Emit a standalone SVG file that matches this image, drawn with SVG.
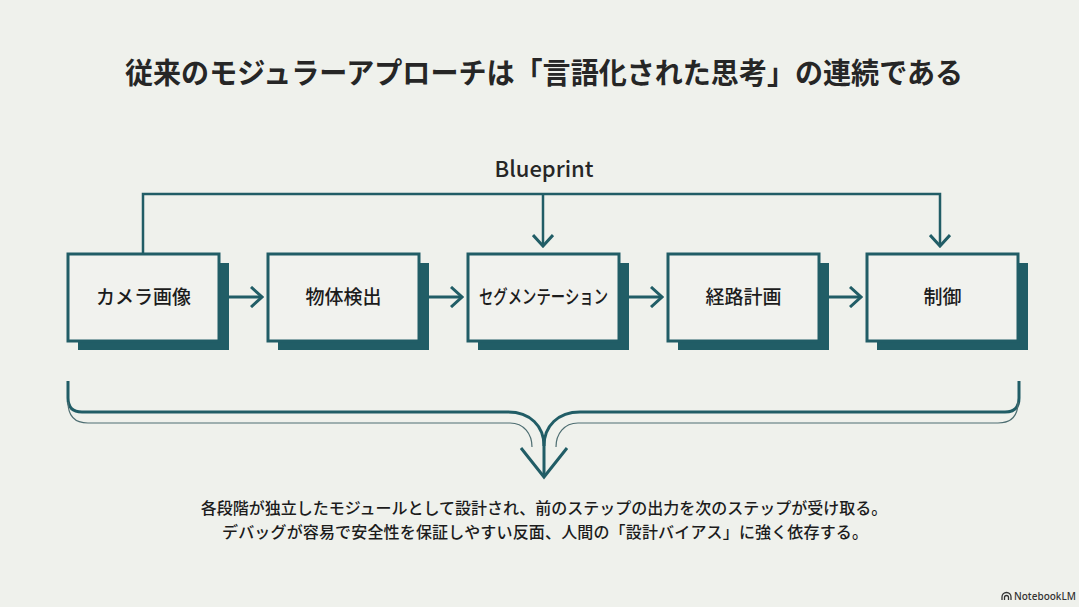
<svg xmlns="http://www.w3.org/2000/svg" width="1079" height="607" viewBox="0 0 1079 607">
  <defs>
    <style>
      .bg { fill: #EFF1EC; }
      .shadow { fill: #215D66; }
      .box { fill: #F1F2EE; stroke: #215D66; stroke-width: 3; }
      .lbl { font-family: "Noto Sans CJK JP", "Noto Sans", sans-serif; font-size: 19px; font-weight: 500; fill: #1C1C1C; text-anchor: middle; }
      .title { font-family: "Noto Sans CJK JP", "Noto Sans", sans-serif; font-size: 29px; font-weight: 700; fill: #262626; text-anchor: middle; }
      .body { font-family: "Noto Sans CJK JP", "Noto Sans", sans-serif; font-size: 16px; font-weight: 500; fill: #1C1C1C; text-anchor: middle; }
      .bp { font-family: "Noto Sans CJK JP", "Noto Sans", sans-serif; font-size: 22px; font-weight: 500; fill: #262626; text-anchor: middle; }
      .conn { fill: none; stroke: #215D66; stroke-width: 3; }
      .thin { fill: none; stroke: #215D66; stroke-width: 2.5; }
      .hair { fill: none; stroke: #4E6E72; stroke-width: 1.2; }
      .wm { font-family: "Noto Sans", "Liberation Sans", sans-serif; font-size: 10px; font-weight: 500; fill: #333; }
    </style>
    <marker id="chev" viewBox="0 0 14 22" refX="12" refY="11" markerWidth="14" markerHeight="22" markerUnits="userSpaceOnUse" orient="auto">
      <path d="M1 1 L12 11 L1 21" fill="none" stroke="#215D66" stroke-width="3"/>
    </marker>
  </defs>

  <rect class="bg" x="0" y="0" width="1079" height="607"/>

  <text class="title" x="544" y="84" textLength="838" lengthAdjust="spacingAndGlyphs">従来のモジュラーアプローチは「言語化された思考」の連続である</text>

  <text class="bp" x="544" y="177">Blueprint</text>

  <g id="connectors">
    <path class="thin" d="M143 254 V194 H940 V246" marker-end="url(#chev)"/>
    <path class="thin" d="M543 194 V246" marker-end="url(#chev)"/>
    <path class="conn" d="M221 297 H262" marker-end="url(#chev)"/>
    <path class="conn" d="M421 297 H462" marker-end="url(#chev)"/>
    <path class="conn" d="M621 297 H662" marker-end="url(#chev)"/>
    <path class="conn" d="M821 297 H861" marker-end="url(#chev)"/>
  </g>

  <g id="node-camera">
    <rect class="shadow" x="78" y="263" width="151" height="87"/>
    <rect class="box" x="68" y="254" width="151" height="87"/>
    <text class="lbl" x="143.5" y="304">カメラ画像</text>
  </g>
  <g id="node-detect">
    <rect class="shadow" x="278" y="263" width="151" height="87"/>
    <rect class="box" x="268" y="254" width="151" height="87"/>
    <text class="lbl" x="343.5" y="304">物体検出</text>
  </g>
  <g id="node-seg">
    <rect class="shadow" x="478" y="263" width="151" height="87"/>
    <rect class="box" x="468" y="254" width="151" height="87"/>
    <text class="lbl" x="543.5" y="304" textLength="129" lengthAdjust="spacingAndGlyphs">セグメンテーション</text>
  </g>
  <g id="node-plan">
    <rect class="shadow" x="678" y="263" width="151" height="87"/>
    <rect class="box" x="668" y="254" width="151" height="87"/>
    <text class="lbl" x="743.5" y="304">経路計画</text>
  </g>
  <g id="node-control">
    <rect class="shadow" x="877" y="263" width="151" height="87"/>
    <rect class="box" x="867" y="254" width="151" height="87"/>
    <text class="lbl" x="942.5" y="304">制御</text>
  </g>

  <g id="brace">
    <path class="conn" d="M68 381 V398 Q68 412 82 412 H508 C530 412 544 426 544 446 V477"/>
    <path class="conn" d="M1019 381 V398 Q1019 412 1005 412 H580 C558 412 544 426 544 446"/>
    <path class="conn" d="M521 448 L544 477 L567 448"/>
    <path class="hair" d="M68 402 Q68 423 88 423 H510 C524 423 532 434 532 447"/>
    <path class="hair" d="M1018 402 Q1018 423 998 423 H578 C564 423 556 434 556 447"/>
  </g>

  <text class="body" x="544" y="514">各段階が独立したモジュールとして設計され、前のステップの出力を次のステップが受け取る。</text>
  <text class="body" x="545" y="538" textLength="646">デバッグが容易で安全性を保証しやすい反面、人間の「設計バイアス」に強く依存する。</text>

  <g id="watermark">
    <path d="M1002 600 v-3 a4.5 4.5 0 0 1 9 0 v3 M1004.5 600 v-2.5 a2 2 0 0 1 4 0 v2.5" fill="none" stroke="#333" stroke-width="1.3"/>
    <text class="wm" x="1014" y="600">NotebookLM</text>
  </g>
</svg>
